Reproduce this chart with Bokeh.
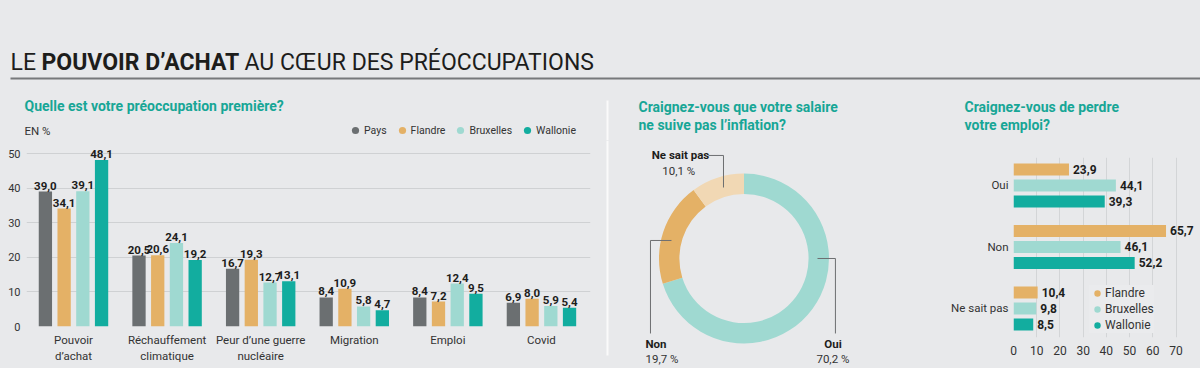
import math
from bokeh.plotting import figure
from bokeh.models import Range1d, FixedTicker, Legend, LegendItem, ColumnDataSource
from bokeh.layouts import row, column
from bokeh.transform import dodge
from bokeh.core.properties import value
from bokeh.embed import file_html
from bokeh.resources import INLINE

# ---------------- data ----------------
title_parts = ["LE", "POUVOIR D’ACHAT", "AU CŒUR DES PRÉOCCUPATIONS"]

q1_title = "Quelle est votre préoccupation première?"
q1_unit = "EN %"
q1_categories = ["Pouvoir\nd’achat", "Réchauffement\nclimatique", "Peur d’une guerre\nnucléaire",
                 "Migration", "Emploi", "Covid"]
q1_series = ["Pays", "Flandre", "Bruxelles", "Wallonie"]
q1_pays = [39.0, 20.5, 16.7, 8.4, 8.4, 6.9]
q1_flandre = [34.1, 20.6, 19.3, 10.9, 7.2, 8.0]
q1_bruxelles = [39.1, 24.1, 12.7, 5.8, 12.4, 5.9]
q1_wallonie = [48.1, 19.2, 13.1, 4.7, 9.5, 5.4]
q1_yticks = [0, 10, 20, 30, 40, 50]

q2_title = ["Craignez-vous que votre salaire", "ne suive pas l’inflation?"]
q2_labels = ["Oui", "Non", "Ne sait pas"]
q2_values = [70.2, 19.7, 10.1]

q3_title = ["Craignez-vous de perdre", "votre emploi?"]
q3_categories = ["Oui", "Non", "Ne sait pas"]
q3_series = ["Flandre", "Bruxelles", "Wallonie"]
q3_flandre = [23.9, 65.7, 10.4]
q3_bruxelles = [44.1, 46.1, 9.8]
q3_wallonie = [39.3, 52.2, 8.5]
q3_xticks = [0, 10, 20, 30, 40, 50, 60, 70]

# ---------------- style ----------------
BG = "#e8e9eb"
TEAL_T = "#17a696"
C_PAYS = "#6b6f71"
C_FL = "#e4b166"
C_BX = "#9fd9d1"
C_WA = "#12ad9f"
C_NSP = "#f1d8b4"
GRID = "#cfd1d3"
TXT = "#1d1d1b"
TXT2 = "#333333"
FONT = "Roboto"
NAN = float("nan")


def fmt(v):
    return f"{v:.1f}".replace(".", ",")


def base_fig(**kw):
    p = figure(output_backend="svg", toolbar_location=None, **kw)
    p.background_fill_color = BG
    p.border_fill_color = BG
    p.outline_line_color = None
    p.frame_align = False
    return p


def style_axis(ax, size):
    ax.axis_line_color = None
    ax.major_tick_line_color = None
    ax.minor_tick_line_color = None
    ax.major_tick_out = 0
    ax.major_tick_in = 0
    ax.minor_tick_out = 0
    ax.major_label_text_font = FONT
    ax.major_label_text_color = TXT2
    ax.major_label_text_font_size = size


# ---------------- header (titles, legend of left chart) ----------------
H = base_fig(width=1200, height=140, x_range=Range1d(0, 1200), y_range=Range1d(140, 0),
             x_axis_location=None, y_axis_location=None, min_border=0)
H.grid.visible = False
title_x = [10, 41, 244]
title_style = ["normal", "bold", "normal"]
for txt, tx, st in zip(title_parts, title_x, title_style):
    H.text(x=[tx], y=[62], text=[txt], text_font=value(FONT), text_font_size="23px",
           text_font_style=st, text_color=TXT, text_baseline="alphabetic")
H.segment(x0=[10], y0=[78], x1=[1200], y1=[78], line_color="#77797b", line_width=2)
H.segment(x0=[607], y0=[100], x1=[607], y1=[140], line_color="#fafafa", line_width=2)

H.text(x=[24], y=[105], text=[q1_title], text_font=value(FONT), text_font_style="bold",
       text_font_size="14px", text_color=TEAL_T, text_baseline="middle")
H.text(x=[24], y=[130], text=[q1_unit], text_font=value(FONT), text_font_size="11.5px",
       text_color=TXT2, text_baseline="middle")
for k, t in enumerate(q2_title):
    H.text(x=[638], y=[106 + 18 * k], text=[t], text_font=value(FONT), text_font_style="bold",
           text_font_size="14px", text_color=TEAL_T, text_baseline="middle")
for k, t in enumerate(q3_title):
    H.text(x=[964], y=[106 + 18 * k], text=[t], text_font=value(FONT), text_font_style="bold",
           text_font_size="14px", text_color=TEAL_T, text_baseline="middle")

q1_colors = [C_PAYS, C_FL, C_BX, C_WA]
leg_items = []
for name, col in zip(q1_series, q1_colors):
    r = H.scatter(x=[NAN], y=[NAN], size=9, marker="circle", fill_color=col, line_color=None)
    leg_items.append(LegendItem(label=name, renderers=[r]))
leg1 = Legend(items=leg_items, orientation="horizontal", location=(346, 1),
              background_fill_alpha=0, border_line_color=None, glyph_width=18, glyph_height=18,
              label_standoff=-2, spacing=6, padding=0, margin=0, label_height=18,
              label_text_font=FONT, label_text_font_size="10.5px", label_text_color=TXT2,
              label_text_baseline="middle")
H.add_layout(leg1)

# ---------------- left: grouped bars ----------------
L = base_fig(width=600, height=228, x_range=Range1d(-0.502, 5.524), y_range=Range1d(0, 53.76),
             min_border_left=26, min_border_right=10, min_border_top=0, min_border_bottom=42)
src1 = ColumnDataSource(dict(
    x=list(range(len(q1_categories))),
    Pays=q1_pays, Flandre=q1_flandre, Bruxelles=q1_bruxelles, Wallonie=q1_wallonie,
    lab_Pays=[fmt(v) for v in q1_pays], lab_Flandre=[fmt(v) for v in q1_flandre],
    lab_Bruxelles=[fmt(v) for v in q1_bruxelles], lab_Wallonie=[fmt(v) for v in q1_wallonie],
))
q1_offsets = [-0.3, -0.1, 0.1, 0.3]
for name, col, off in zip(q1_series, q1_colors, q1_offsets):
    L.vbar(x=dodge("x", off), top=name, width=0.142, source=src1, fill_color=col, line_color=None)
    L.text(x=dodge("x", off), y=name, text="lab_" + name, source=src1, text_font=value(FONT),
           text_font_size="11.5px", text_font_style="bold", text_color=TXT,
           text_align="center", text_baseline="bottom", y_offset=-2)

L.xaxis.ticker = FixedTicker(ticks=list(range(len(q1_categories))))
L.xaxis.major_label_overrides = {i: c for i, c in enumerate(q1_categories)}
L.yaxis.ticker = FixedTicker(ticks=q1_yticks)
style_axis(L.xaxis, "11.5px")
style_axis(L.yaxis, "11px")
L.xaxis.major_label_standoff = 6
L.yaxis.major_label_standoff = 6
L.xgrid.visible = False
L.ygrid.grid_line_color = GRID
L.ygrid.grid_line_width = 1

# ---------------- middle: donut ----------------
D = base_fig(width=345, height=228, x_range=Range1d(-1.688, 2.371), y_range=Range1d(-1.294, 1.388),
             x_axis_location=None, y_axis_location=None, min_border=0)
D.grid.visible = False
tot = sum(q2_values)
starts, ends = [], []
cum = 0.0
for v in q2_values:
    starts.append(math.pi / 2 - 2 * math.pi * cum / tot)
    cum += v
    ends.append(math.pi / 2 - 2 * math.pi * cum / tot)
src2 = ColumnDataSource(dict(start=starts, end=ends, color=[C_BX, C_FL, C_NSP],
                             label=q2_labels, pct=[fmt(v) + " %" for v in q2_values]))
D.annular_wedge(x=0, y=0, inner_radius=0.76, outer_radius=1.0, start_angle="start",
                end_angle="end", direction="clock", fill_color="color", line_color=None, source=src2)

# label layout (positions only)
lab_x = [1.15, -1.159, -0.747]
lab_y = [-1.0, -1.0, 1.212]
lab_align = ["right", "left", "center"]
pct_dx = [0.09, 0.0, -0.02]
for i in range(len(q2_labels)):
    D.text(x=[lab_x[i]], y=[lab_y[i]], text=[q2_labels[i]], text_font=value(FONT),
           text_font_style="bold", text_font_size="11.5px", text_color=TXT,
           text_align=lab_align[i], text_baseline="middle")
    D.text(x=[lab_x[i] + pct_dx[i]], y=[lab_y[i] - 0.185],
           text=[src2.data["pct"][i]], text_font=value(FONT), text_font_size="11.5px",
           text_color=TXT2, text_align=lab_align[i], text_baseline="middle")
D.multi_line(xs=[[0.865, 1.076, 1.076], [-0.853, -1.1, -1.1], [-0.418, -0.241, -0.241]],
             ys=[[0.0, 0.0, -0.882], [0.212, 0.212, -0.882], [1.212, 1.212, 0.835]],
             line_color="#6d6f71", line_width=1)
D.segment(x0=[-1.606], y0=[1.388], x1=[-1.606], y1=[-1.141], line_color="#fafafa", line_width=2)

# ---------------- right: horizontal grouped bars ----------------
R = base_fig(width=255, height=228, x_range=Range1d(0, 78.4), y_range=Range1d(2.472, -0.455),
             min_border_left=68, min_border_right=5, min_border_top=17, min_border_bottom=31)
src3 = ColumnDataSource(dict(
    y=list(range(len(q3_categories))),
    Flandre=q3_flandre, Bruxelles=q3_bruxelles, Wallonie=q3_wallonie,
    lab_Flandre=[fmt(v) for v in q3_flandre], lab_Bruxelles=[fmt(v) for v in q3_bruxelles],
    lab_Wallonie=[fmt(v) for v in q3_wallonie],
))
q3_colors = [C_FL, C_BX, C_WA]
q3_offsets = [-0.26, 0.0, 0.26]
leg3_items = []
for name, col, off in zip(q3_series, q3_colors, q3_offsets):
    R.hbar(y=dodge("y", off), right=name, left=0, height=0.195, source=src3,
           fill_color=col, line_color=None)
    R.text(x=name, y=dodge("y", off), text="lab_" + name, source=src3, text_font=value(FONT),
           text_font_size="12px", text_font_style="bold", text_color=TXT,
           text_align="left", text_baseline="middle", x_offset=4)
    r = R.scatter(x=[NAN], y=[NAN], size=9, marker="circle", fill_color=col, line_color=None)
    leg3_items.append(LegendItem(label=name, renderers=[r]))
R.yaxis.ticker = FixedTicker(ticks=list(range(len(q3_categories))))
R.yaxis.major_label_overrides = {i: c for i, c in enumerate(q3_categories)}
R.xaxis.ticker = FixedTicker(ticks=q3_xticks)
style_axis(R.xaxis, "12px")
style_axis(R.yaxis, "11.5px")
R.yaxis.major_label_standoff = 5
R.xaxis.major_label_standoff = 8
R.ygrid.visible = False
R.xgrid.grid_line_color = "#d3d5d7"
leg3 = Legend(items=leg3_items, location=(76, 4), background_fill_color="#eaebed",
              background_fill_alpha=1.0, border_line_color=None, glyph_width=16, glyph_height=16,
              label_standoff=0, spacing=0, padding=2, margin=0, label_height=16,
              label_text_font=FONT, label_text_font_size="12px", label_text_color=TXT2,
              label_text_baseline="middle")
R.add_layout(leg3)

page = column(H, row(L, D, R))
html = file_html(page, INLINE, title="Pouvoir d'achat")
style = ("<style>html{background:#ffffff linear-gradient(#e8e9eb,#e8e9eb) no-repeat;"
         "background-size:100% 368px;}body{background:transparent;}</style>")
html = html.replace("</head>", style + "</head>", 1)
open("out.html", "w").write(html)
